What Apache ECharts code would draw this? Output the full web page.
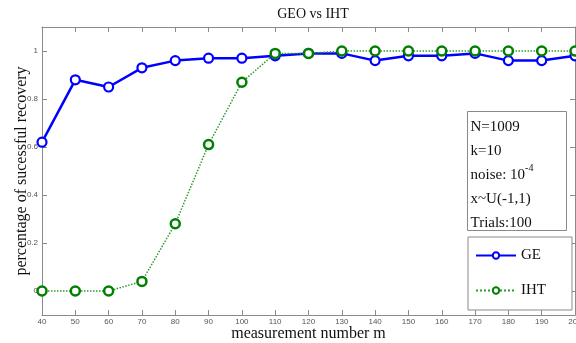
<!DOCTYPE html>
<html>
<head>
<meta charset="utf-8">
<script src="https://cdn.jsdelivr.net/npm/echarts@6/dist/echarts.min.js"></script>
<style>html,body{margin:0;padding:0;background:#fff;}#c{width:576px;height:343px;}</style>
</head>
<body>
<div id="c"></div>
<script>
var mValues = [40, 50, 60, 70, 80, 90, 100, 110, 120, 130, 140, 150, 160, 170, 180, 190, 200];
var geValues = [0.62, 0.88, 0.85, 0.93, 0.96, 0.97, 0.97, 0.98, 0.99, 0.99, 0.96, 0.98, 0.98, 0.99, 0.96, 0.96, 0.98];
var ihtValues = [0, 0, 0, 0.04, 0.28, 0.61, 0.87, 0.99, 0.99, 1, 1, 1, 1, 1, 1, 1, 1];
var yTicks = [0, 0.2, 0.4, 0.6, 0.8, 1];

var serif = 'Liberation Serif';
var chart = echarts.init(document.getElementById('c'));
var axisCol = '#8a8a8a';
var labelStyle = {fontFamily: 'Liberation Sans', fontSize: 8, color: '#555'};

function pairs(ys) { return mValues.map(function (m, i) { return [m, ys[i]]; }); }

chart.setOption({
  animation: false,
  backgroundColor: '#fff',
  title: {
    text: 'GEO vs IHT', left: 308, top: 2, textAlign: 'center',
    textStyle: {fontFamily: serif, fontSize: 14, fontWeight: 'normal', color: '#111'}
  },
  grid: {left: 42, right: 1, top: 27, bottom: 28, containLabel: false, outerBoundsMode: 'none'},
  xAxis: [{
    type: 'value', min: 40, max: 200, interval: 10,
    name: 'measurement number m', nameLocation: 'middle', nameGap: 11, nameMoveOverlap: false,
    nameTextStyle: {fontFamily: serif, fontSize: 16, color: '#111'},
    axisLine: {onZero: false, lineStyle: {color: axisCol}},
    axisTick: {inside: true, length: 5, lineStyle: {color: axisCol}},
    axisLabel: Object.assign({margin: 3, hideOverlap: false}, labelStyle),
    splitLine: {show: false}
  }, {
    type: 'value', min: 40, max: 200, interval: 10, position: 'top',
    axisLine: {show: true, onZero: false, lineStyle: {color: axisCol}},
    axisTick: {inside: true, length: 5, lineStyle: {color: axisCol}},
    axisLabel: {show: false}, splitLine: {show: false}
  }],
  yAxis: [{
    type: 'value', min: -0.1, max: 1.1,
    name: 'percentage of sucessful recovery', nameLocation: 'middle', nameGap: 12, nameMoveOverlap: false,
    nameTextStyle: {fontFamily: serif, fontSize: 16, color: '#111'},
    axisLine: {show: true, onZero: false, lineStyle: {color: axisCol}},
    axisTick: {show: true, inside: true, length: 5, customValues: yTicks, lineStyle: {color: axisCol}},
    axisLabel: Object.assign({margin: 4, customValues: yTicks, formatter: function (v) { return String(+v.toFixed(1)); }}, labelStyle),
    splitLine: {show: false}
  }, {
    type: 'value', min: -0.1, max: 1.1, position: 'right',
    axisLine: {show: true, onZero: false, lineStyle: {color: axisCol}},
    axisTick: {show: true, inside: true, length: 5, customValues: yTicks, lineStyle: {color: axisCol}},
    axisLabel: {show: false}, splitLine: {show: false}
  }],
  legend: {
    orient: 'vertical', left: 468, top: 237,
    padding: [11, 26, 12, 7], itemGap: 20,
    itemWidth: 40, itemHeight: 8,
    borderColor: '#8a8a8a', borderWidth: 1, backgroundColor: '#fff',
    textStyle: {fontFamily: serif, fontSize: 15, color: '#111'},
    data: ['GE', 'IHT']
  },
  series: [{
    name: 'GE', type: 'line', data: pairs(geValues),
    symbol: 'circle', symbolSize: 9, showSymbol: true,
    lineStyle: {color: '#0000ff', width: 2.5},
    itemStyle: {color: '#fff', borderColor: '#0000ff', borderWidth: 2.2},
    z: 2
  }, {
    name: 'IHT', type: 'line', data: pairs(ihtValues),
    symbol: 'circle', symbolSize: 9, showSymbol: true,
    lineStyle: {color: '#2e9a2e', width: 1.5, type: 'dotted'},
    itemStyle: {color: '#fff', borderColor: '#008000', borderWidth: 2.5},
    z: 3
  }],
  graphic: [{
    type: 'group', left: 467, top: 111, z: 100,
    children: [{
      type: 'rect', shape: {x: 0, y: 0, width: 99, height: 119},
      style: {fill: '#fff', stroke: '#8a8a8a', lineWidth: 1}
    }, {
      type: 'text', x: 3, y: 4,
      style: {
        text: 'N=1009\nk=10\nnoise: 10{sup|-4}\nx~U(-1,1)\nTrials:100',
        fontFamily: serif, fontSize: 15, lineHeight: 24, fill: '#111',
        rich: {sup: {fontFamily: serif, fontSize: 10, verticalAlign: 'top', padding: [0, 0, 8, 0], fill: '#111'}}
      }
    }]
  }]
});
</script>
</body>
</html>
